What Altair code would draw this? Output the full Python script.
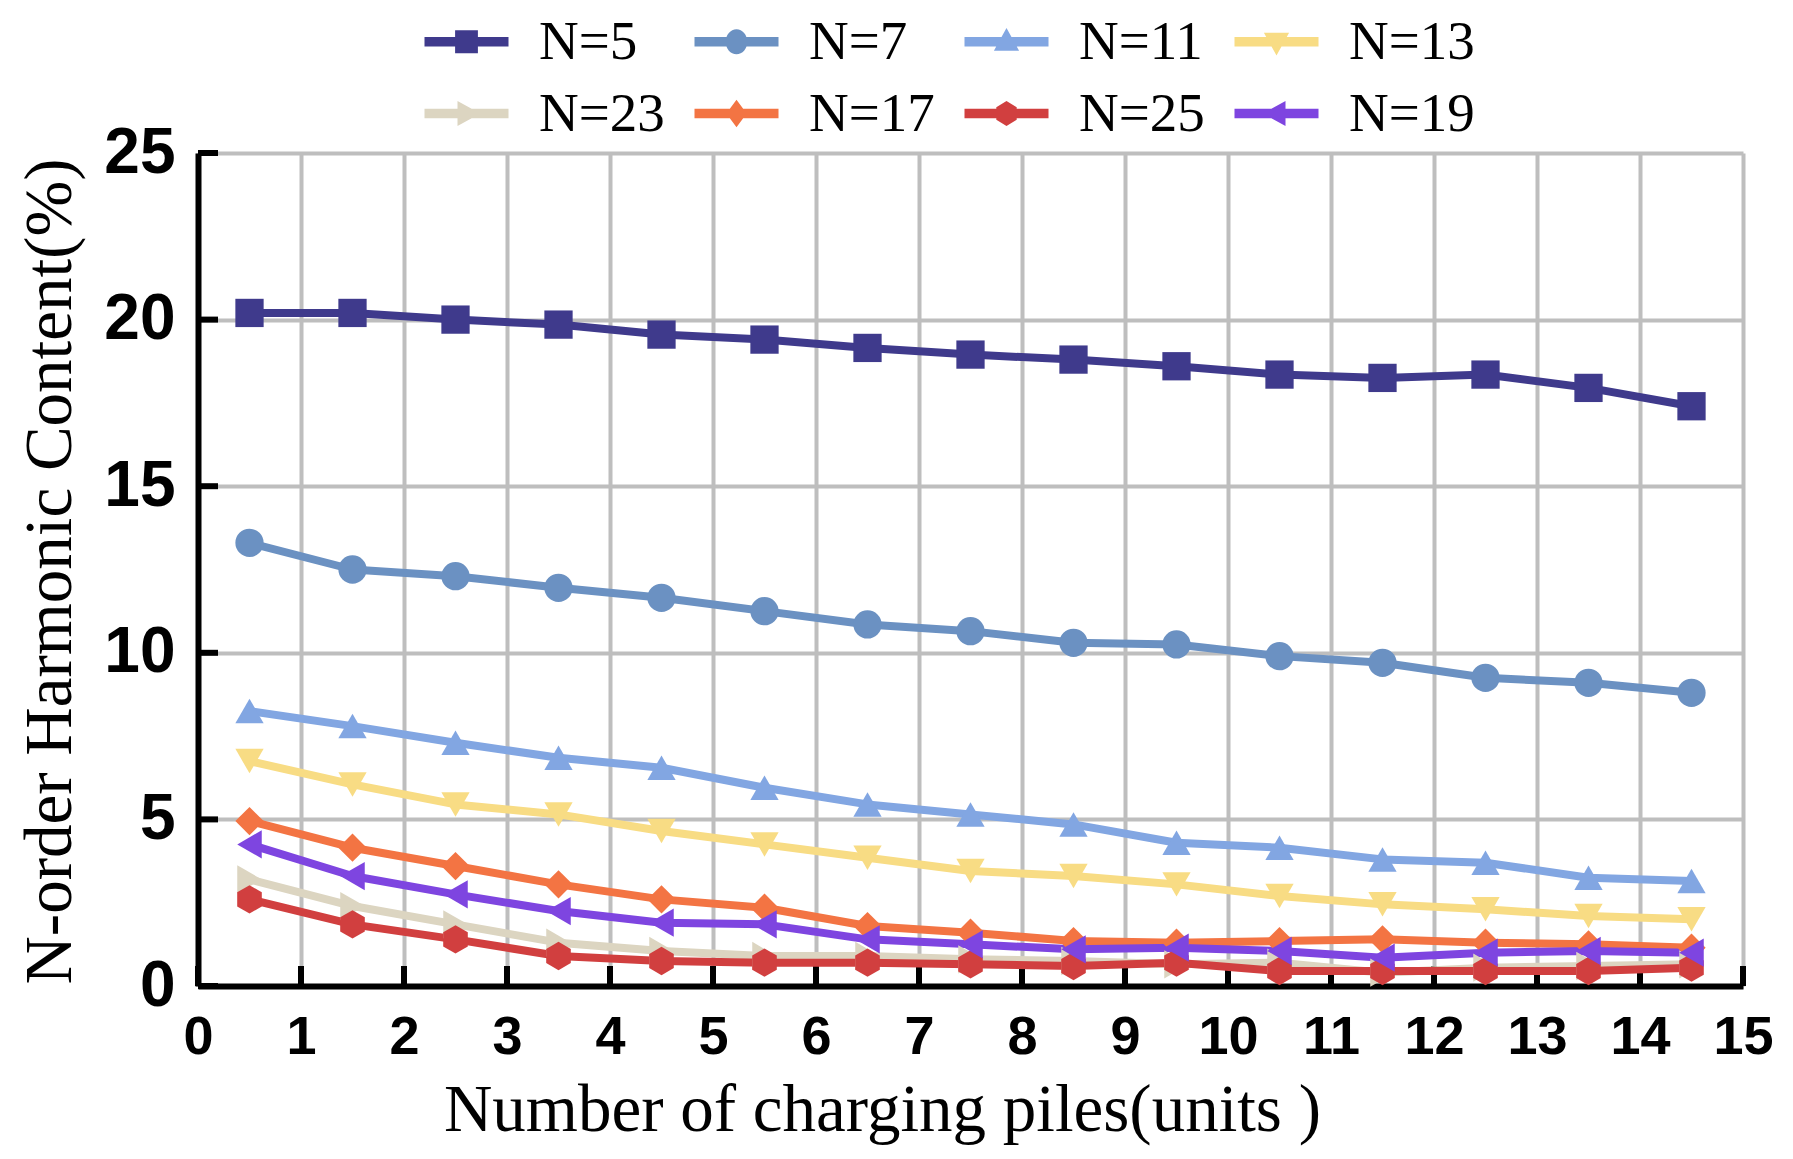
import pandas as pd
import altair as alt

# x positions of the samples (number of charging piles)
x_pos = [0.5, 1.5, 2.5, 3.5, 4.5, 5.5, 6.5, 7.5, 8.5, 9.5, 10.5, 11.5, 12.5, 13.5, 14.5]

series_order = ["N=5", "N=7", "N=11", "N=13", "N=23", "N=17", "N=25", "N=19"]

n5 = [20.2, 20.2, 20.0, 19.85, 19.55, 19.4, 19.15, 18.95, 18.8, 18.6, 18.35, 18.25, 18.35, 17.95, 17.4]
n7 = [13.3, 12.5, 12.3, 11.95, 11.65, 11.25, 10.85, 10.65, 10.3, 10.25, 9.9, 9.7, 9.25, 9.1, 8.8]
n11 = [8.25, 7.8, 7.3, 6.85, 6.55, 5.95, 5.45, 5.15, 4.85, 4.3, 4.15, 3.8, 3.7, 3.25, 3.15]
n13 = [6.75, 6.05, 5.45, 5.15, 4.65, 4.25, 3.85, 3.45, 3.3, 3.05, 2.7, 2.45, 2.3, 2.1, 2.0]
n23 = [3.2, 2.4, 1.85, 1.3, 1.05, 0.9, 0.9, 0.8, 0.75, 0.65, 0.7, 0.4, 0.55, 0.6, 0.65]
n17 = [4.95, 4.15, 3.6, 3.05, 2.6, 2.35, 1.8, 1.6, 1.35, 1.3, 1.35, 1.4, 1.3, 1.25, 1.15]
n25 = [2.6, 1.85, 1.4, 0.9, 0.75, 0.7, 0.7, 0.65, 0.6, 0.7, 0.45, 0.45, 0.45, 0.45, 0.55]
n19 = [4.25, 3.3, 2.75, 2.25, 1.9, 1.85, 1.4, 1.25, 1.1, 1.15, 1.05, 0.85, 1.0, 1.05, 1.0]

colors = ["#3F3A8C", "#6B91C2", "#82A6E2", "#F8DC84", "#DCD5C1", "#F37443", "#D13F3F", "#7E45E0"]

x_ticks = list(range(0, 16))
y_ticks = [0, 5, 10, 15, 20, 25]

PLOT_W, PLOT_H = 1545, 833
SERIF = "Liberation Serif"
SANS = "Liberation Sans"

rows = []
for name, vals in zip(series_order, [n5, n7, n11, n13, n23, n17, n25, n19]):
    for xv, v in zip(x_pos, vals):
        rows.append({"x": xv, "value": v, "series": name})
df = pd.DataFrame(rows)

HEX = "M0,-1L0.87,-0.5L0.87,0.5L0,1L-0.87,0.5L-0.87,-0.5Z"
marker_shapes = ["square", "circle", "triangle-up", "triangle-down",
                 "triangle-right", "diamond", HEX, "triangle-left"]

# legend keys: a bar with the marker in its middle
BAR = "M-1,-0.4H6V0.4H-1Z"
key_markers = [
    "M1.55,-0.95H3.45V0.95H1.55Z",
    "M1.6,0A0.9,1.05 0 1,1 3.4,0A0.9,1.05 0 1,1 1.6,0Z",
    "M2.5,-1.15L3.55,0.75L1.45,0.75Z",
    "M2.5,1.15L1.45,-0.75L3.55,-0.75Z",
    "M3.65,0L1.75,1.05L1.75,-1.05Z",
    "M2.5,-1.15L3.35,0L2.5,1.15L1.65,0Z",
    "M2.5,-1.05L3.35,-0.52L3.35,0.52L2.5,1.05L1.65,0.52L1.65,-0.52Z",
    "M1.35,0L3.25,-1.05L3.25,1.05Z",
]
key_shapes = [BAR + m for m in key_markers]

x_scale = alt.Scale(domain=[0, 15], nice=False, zero=False)
y_scale = alt.Scale(domain=[0, 25], nice=False)
color_scale = alt.Scale(domain=series_order, range=colors)

x_enc = alt.X(
    "x:Q", scale=x_scale,
    axis=alt.Axis(
        values=x_ticks, format="d", title="Number of charging piles(units )",
        labelFont=SANS, labelFontWeight="bold", labelFontSize=54, labelColor="black",
        labelPadding=24, labelFlush=False, labelOverlap=False,
        ticks=False, tickSize=0,
        domainColor="black", domainWidth=6,
        grid=True, gridColor="#BEBEBE", gridWidth=4,
        titleFont=SERIF, titleFontSize=67, titleFontWeight="normal", titleColor="black",
        titleX=684, titleY=144, titleBaseline="alphabetic",
    ),
)
y_enc = alt.Y(
    "value:Q", scale=y_scale,
    axis=alt.Axis(
        values=y_ticks, format="d", title="N-order Harmonic Content(%)",
        labelFont=SANS, labelFontWeight="bold", labelFontSize=64, labelColor="black",
        labelPadding=23, labelOverlap=False,
        ticks=False, tickSize=0,
        domainColor="black", domainWidth=6,
        grid=True, gridColor="#BEBEBE", gridWidth=4,
        titleFont=SERIF, titleFontSize=67, titleFontWeight="normal", titleColor="black",
        titleX=-128, titleY=418, titleBaseline="alphabetic",
    ),
)

# inward ticks
xt = alt.Chart(pd.DataFrame({"x": x_ticks})).mark_rule(color="black", strokeWidth=6).encode(
    x=alt.X("x:Q", scale=x_scale), y=alt.value(PLOT_H), y2=alt.value(PLOT_H - 20)
)
yt = alt.Chart(pd.DataFrame({"value": y_ticks})).mark_rule(color="black", strokeWidth=6).encode(
    y=alt.Y("value:Q", scale=y_scale), x=alt.value(0), x2=alt.value(20)
)

lines = alt.Chart(df).mark_line(strokeWidth=8, strokeJoin="round").encode(
    x=x_enc, y=y_enc,
    color=alt.Color("series:N", scale=color_scale, legend=None),
)

points = alt.Chart(df).mark_point(filled=True, size=800, opacity=1).encode(
    x=x_enc, y=y_enc,
    color=alt.Color("series:N", scale=color_scale, legend=None),
    shape=alt.Shape("series:N", scale=alt.Scale(domain=series_order, range=marker_shapes), legend=None),
)

leg = alt.Legend(
    title=None, orient="none", legendX=211, legendY=-139, columns=4, direction="horizontal",
    symbolSize=576, symbolStrokeWidth=0, symbolOpacity=1,
    labelFont=SERIF, labelFontSize=55, labelColor="black", labelOffset=75,
    columnPadding=14, rowPadding=16, gridAlign="all", padding=0,
)

key = alt.Chart(df).transform_filter("false").mark_point(filled=True).encode(
    x=x_enc, y=y_enc,
    color=alt.Color("series:N", scale=color_scale, legend=leg),
    shape=alt.Shape("series:N", scale=alt.Scale(domain=series_order, range=key_shapes), legend=leg),
)

chart = (
    alt.layer(xt, yt, lines, points, key)
    .resolve_scale(color="independent", shape="independent")
    .properties(
        width=PLOT_W, height=PLOT_H,
        autosize=alt.AutoSizeParams(type="none"),
        padding={"left": 190, "top": 145, "right": 34, "bottom": 160},
        background="white",
    )
    .configure_view(strokeWidth=0)
)

chart.save("out.html", embed_options={"renderer": "svg", "actions": False})
